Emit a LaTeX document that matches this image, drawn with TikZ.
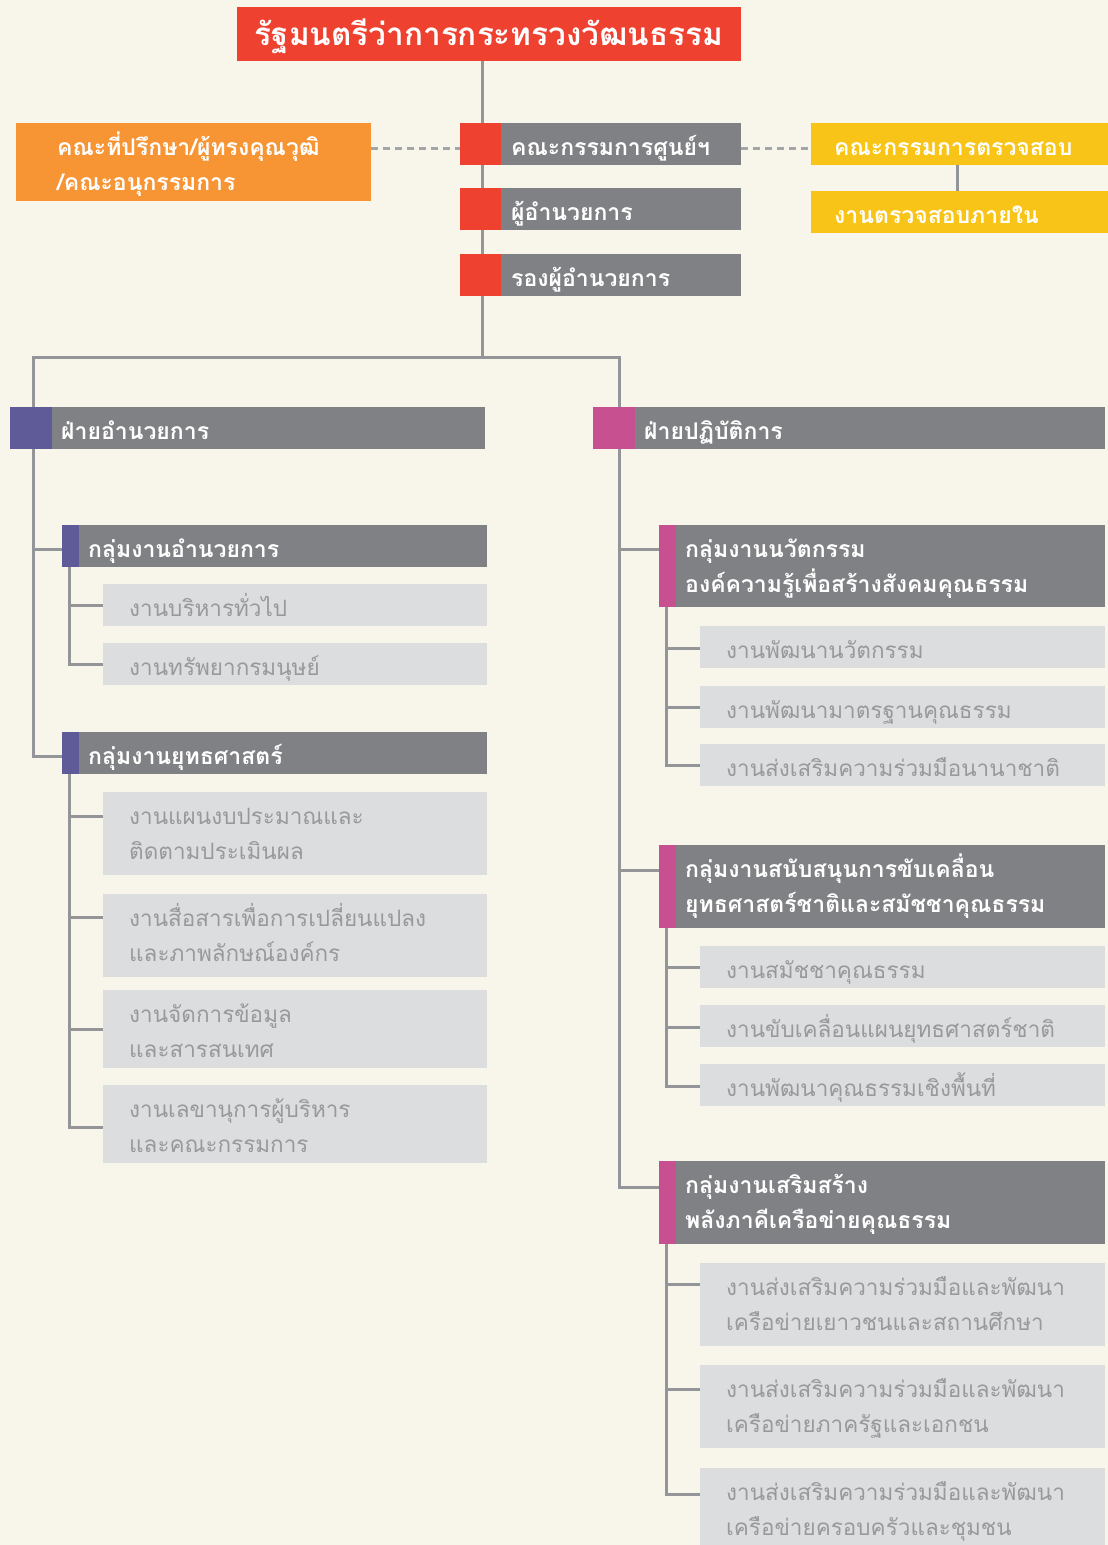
\documentclass[tikz,border=0pt]{standalone}
\usepackage{fontspec}
\newfontfamily\thai[Script=Thai]{Loma}
\usetikzlibrary{calc}
\pgfdeclarelayer{back}
\pgfdeclarelayer{bg}
\pgfsetlayers{back,bg,main}
\definecolor{cBg}{HTML}{F8F6EA}
\definecolor{cRed}{HTML}{EE4130}
\definecolor{cOrange}{HTML}{F79433}
\definecolor{cYellow}{HTML}{F8C417}
\definecolor{cHdr}{HTML}{808184}
\definecolor{cLight}{HTML}{DCDDDE}
\definecolor{cSubT}{HTML}{97999C}
\definecolor{cPurple}{HTML}{5F5B98}
\definecolor{cMagenta}{HTML}{C75190}
\definecolor{cLine}{HTML}{939598}
\definecolor{cDash}{HTML}{A3A5A8}
\newcommand\mkbox[6]{\node[boxbase,fill=#2,minimum width=#5pt,minimum height=#6pt] (#1) at (#3,#4) {};}
\newcommand\mktext[6]{\node[#2,anchor=base west] (#1) at ([xshift=#4pt,yshift=-#5pt]#3.north west) {#6};}
\newcommand\subconn[3]{\coordinate (#2c) at ([yshift=-#3pt]#2.north west); \draw[conn] (#1 |- #2c) -- (#2c);}
\begin{document}
\begin{tikzpicture}[x=1pt,y=-1pt,
  boxbase/.style={rectangle,inner sep=0pt,outer sep=0pt,draw=none,anchor=north west},
  hdrtext/.style={font=\thai\bfseries\fontsize{23}{27}\selectfont,text=white,inner sep=0pt},
  subtext/.style={font=\thai\fontsize{22.5}{26}\selectfont,text=cSubT,inner sep=0pt},
  titletext/.style={font=\thai\bfseries\fontsize{31.5}{35}\selectfont,text=white,inner sep=0pt},
  conn/.style={draw=cLine,line width=3pt,line cap=rect},
  dashconn/.style={draw=cDash,line width=3pt,dash pattern=on 7pt off 5pt}]
\begin{pgfonlayer}{back}
\fill[cBg] (0,0) rectangle (1108,1545);
\end{pgfonlayer}
\useasboundingbox (0,0) rectangle (1108,1545);
% top
\mkbox{title}{cRed}{237}{7}{504}{54}
\node[titletext,anchor=base] (titlet) at ([yshift=-38pt]title.north) {รัฐมนตรีว่าการกระทรวงวัฒนธรรม};
\mkbox{orange}{cOrange}{16}{123}{355}{78}
\mktext{or1}{hdrtext}{orange}{41}{32}{คณะที่ปรึกษา/ผู้ทรงคุณวุฒิ}
\mktext{or2}{hdrtext}{orange}{41}{67}{/คณะอนุกรรมการ}
\mkbox{c1r}{cRed}{460}{123}{41}{42}
\mkbox{c1g}{cHdr}{501}{123}{240}{42}
\mktext{c1t}{hdrtext}{c1g}{10}{32}{คณะกรรมการศูนย์ฯ}
\mkbox{c2r}{cRed}{460}{188}{41}{42}
\mkbox{c2g}{cHdr}{501}{188}{240}{42}
\mktext{c2t}{hdrtext}{c2g}{10}{32}{ผู้อำนวยการ}
\mkbox{c3r}{cRed}{460}{254}{41}{42}
\mkbox{c3g}{cHdr}{501}{254}{240}{42}
\mktext{c3t}{hdrtext}{c3g}{10}{32}{รองผู้อำนวยการ}
\mkbox{y1}{cYellow}{811}{123}{297}{42}
\mktext{y1t}{hdrtext}{y1}{23}{32}{คณะกรรมการตรวจสอบ}
\mkbox{y2}{cYellow}{811}{191}{297}{42}
\mktext{y2t}{hdrtext}{y2}{23}{32}{งานตรวจสอบภายใน}
% divisions
\mkbox{L1s}{cPurple}{10}{407}{42}{42}
\mkbox{L1}{cHdr}{52}{407}{433}{42}
\mktext{L1t}{hdrtext}{L1}{9}{32}{ฝ่ายอำนวยการ}
\mkbox{R1s}{cMagenta}{593}{407}{42}{42}
\mkbox{R1}{cHdr}{635}{407}{470}{42}
\mktext{R1t}{hdrtext}{R1}{9}{32}{ฝ่ายปฏิบัติการ}
% left groups
\mkbox{Lg1s}{cPurple}{62}{525}{17}{42}
\mkbox{Lg1}{cHdr}{79}{525}{408}{42}
\mktext{Lg1t}{hdrtext}{Lg1}{9}{32}{กลุ่มงานอำนวยการ}
\mkbox{Ls1}{cLight}{103}{584}{384}{42}
\mktext{Ls1t}{subtext}{Ls1}{26}{32}{งานบริหารทั่วไป}
\mkbox{Ls2}{cLight}{103}{643}{384}{42}
\mktext{Ls2t}{subtext}{Ls2}{26}{32}{งานทรัพยากรมนุษย์}
\mkbox{Lg2s}{cPurple}{62}{732}{17}{42}
\mkbox{Lg2}{cHdr}{79}{732}{408}{42}
\mktext{Lg2t}{hdrtext}{Lg2}{9}{32}{กลุ่มงานยุทธศาสตร์}
\mkbox{Ls3}{cLight}{103}{792}{384}{83}
\mktext{Ls3a}{subtext}{Ls3}{26}{32}{งานแผนงบประมาณและ}
\mktext{Ls3b}{subtext}{Ls3}{26}{67}{ติดตามประเมินผล}
\mkbox{Ls4}{cLight}{103}{894}{384}{83}
\mktext{Ls4a}{subtext}{Ls4}{26}{32}{งานสื่อสารเพื่อการเปลี่ยนแปลง}
\mktext{Ls4b}{subtext}{Ls4}{26}{67}{และภาพลักษณ์องค์กร}
\mkbox{Ls5}{cLight}{103}{990}{384}{78}
\mktext{Ls5a}{subtext}{Ls5}{26}{32}{งานจัดการข้อมูล}
\mktext{Ls5b}{subtext}{Ls5}{26}{67}{และสารสนเทศ}
\mkbox{Ls6}{cLight}{103}{1085}{384}{78}
\mktext{Ls6a}{subtext}{Ls6}{26}{32}{งานเลขานุการผู้บริหาร}
\mktext{Ls6b}{subtext}{Ls6}{26}{67}{และคณะกรรมการ}
% right groups
\mkbox{Rg1s}{cMagenta}{659}{525}{17}{82}
\mkbox{Rg1}{cHdr}{676}{525}{429}{82}
\mktext{Rg1a}{hdrtext}{Rg1}{9}{32}{กลุ่มงานนวัตกรรม}
\mktext{Rg1b}{hdrtext}{Rg1}{9}{67}{องค์ความรู้เพื่อสร้างสังคมคุณธรรม}
\mkbox{Rs1}{cLight}{700}{626}{405}{42}
\mktext{Rs1t}{subtext}{Rs1}{26}{32}{งานพัฒนานวัตกรรม}
\mkbox{Rs2}{cLight}{700}{686}{405}{42}
\mktext{Rs2t}{subtext}{Rs2}{26}{32}{งานพัฒนามาตรฐานคุณธรรม}
\mkbox{Rs3}{cLight}{700}{744}{405}{42}
\mktext{Rs3t}{subtext}{Rs3}{26}{32}{งานส่งเสริมความร่วมมือนานาชาติ}
\mkbox{Rg2s}{cMagenta}{659}{845}{17}{83}
\mkbox{Rg2}{cHdr}{676}{845}{429}{83}
\mktext{Rg2a}{hdrtext}{Rg2}{9}{32}{กลุ่มงานสนับสนุนการขับเคลื่อน}
\mktext{Rg2b}{hdrtext}{Rg2}{9}{67}{ยุทธศาสตร์ชาติและสมัชชาคุณธรรม}
\mkbox{Rs4}{cLight}{700}{946}{405}{42}
\mktext{Rs4t}{subtext}{Rs4}{26}{32}{งานสมัชชาคุณธรรม}
\mkbox{Rs5}{cLight}{700}{1005}{405}{42}
\mktext{Rs5t}{subtext}{Rs5}{26}{32}{งานขับเคลื่อนแผนยุทธศาสตร์ชาติ}
\mkbox{Rs6}{cLight}{700}{1064}{405}{42}
\mktext{Rs6t}{subtext}{Rs6}{26}{32}{งานพัฒนาคุณธรรมเชิงพื้นที่}
\mkbox{Rg3s}{cMagenta}{659}{1161}{17}{83}
\mkbox{Rg3}{cHdr}{676}{1161}{429}{83}
\mktext{Rg3a}{hdrtext}{Rg3}{9}{32}{กลุ่มงานเสริมสร้าง}
\mktext{Rg3b}{hdrtext}{Rg3}{9}{67}{พลังภาคีเครือข่ายคุณธรรม}
\mkbox{Rs7}{cLight}{700}{1263}{405}{83}
\mktext{Rs7a}{subtext}{Rs7}{26}{32}{งานส่งเสริมความร่วมมือและพัฒนา}
\mktext{Rs7b}{subtext}{Rs7}{26}{67}{เครือข่ายเยาวชนและสถานศึกษา}
\mkbox{Rs8}{cLight}{700}{1365}{405}{83}
\mktext{Rs8a}{subtext}{Rs8}{26}{32}{งานส่งเสริมความร่วมมือและพัฒนา}
\mktext{Rs8b}{subtext}{Rs8}{26}{67}{เครือข่ายภาครัฐและเอกชน}
\mkbox{Rs9}{cLight}{700}{1468}{405}{77}
\mktext{Rs9a}{subtext}{Rs9}{26}{32}{งานส่งเสริมความร่วมมือและพัฒนา}
\mktext{Rs9b}{subtext}{Rs9}{26}{67}{เครือข่ายครอบครัวและชุมชน}
% connectors
\begin{pgfonlayer}{bg}
\coordinate (hub) at (482,357);
\coordinate (hl) at (33,357);
\coordinate (hr) at (619,357);
\draw[conn] (hub |- title.south) -- (hub);
\draw[dashconn] ([yshift=-25pt]orange.north east) -- ([yshift=-25pt]c1r.north west);
\draw[dashconn] ([yshift=-25pt]c1g.north east) -- ([yshift=-25pt]y1.north west);
\draw[conn] ([xshift=-2pt]y1.south) -- ([xshift=-2pt]y2.north);
\coordinate (Lg1c) at ([yshift=-24pt]Lg1s.north west);
\coordinate (Lg2c) at ([yshift=-24pt]Lg2s.north west);
\coordinate (Rg1c) at ([yshift=-24pt]Rg1s.north west);
\coordinate (Rg2c) at ([yshift=-25pt]Rg2s.north west);
\coordinate (Rg3c) at ([yshift=-26pt]Rg3s.north west);
\draw[conn] (Lg2c) -| (hl) -- (hr) |- (Rg3c);
\draw[conn] (hl |- Lg1c) -- (Lg1c);
\draw[conn] (hr |- Rg1c) -- (Rg1c);
\draw[conn] (hr |- Rg2c) -- (Rg2c);
% left group 1
\coordinate (Lv1) at ([xshift=-1.5pt]Lg1s.south);
\subconn{Lv1}{Ls1}{21}
\subconn{Lv1}{Ls2}{21}
\draw[conn] (Lv1) -- (Lv1 |- Ls2c);
% left group 2
\coordinate (Lv2) at ([xshift=-1.5pt]Lg2s.south);
\subconn{Lv2}{Ls3}{24}
\subconn{Lv2}{Ls4}{23}
\subconn{Lv2}{Ls5}{39}
\subconn{Lv2}{Ls6}{42}
\draw[conn] (Lv2) -- (Lv2 |- Ls6c);
% right group 1
\coordinate (Rv1) at ([xshift=-1.5pt]Rg1s.south);
\subconn{Rv1}{Rs1}{22}
\subconn{Rv1}{Rs2}{21}
\subconn{Rv1}{Rs3}{21}
\draw[conn] (Rv1) -- (Rv1 |- Rs3c);
% right group 2
\coordinate (Rv2) at ([xshift=-1.5pt]Rg2s.south);
\subconn{Rv2}{Rs4}{21}
\subconn{Rv2}{Rs5}{22}
\subconn{Rv2}{Rs6}{22}
\draw[conn] (Rv2) -- (Rv2 |- Rs6c);
% right group 3
\coordinate (Rv3) at ([xshift=-1.5pt]Rg3s.south);
\subconn{Rv3}{Rs7}{21}
\subconn{Rv3}{Rs8}{24}
\subconn{Rv3}{Rs9}{26}
\draw[conn] (Rv3) -- (Rv3 |- Rs9c);
\end{pgfonlayer}
\end{tikzpicture}
\end{document}
